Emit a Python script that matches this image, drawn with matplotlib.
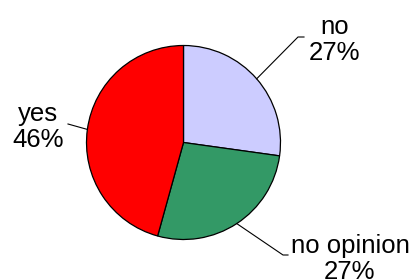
import numpy as np
import matplotlib
matplotlib.use("Agg")
import matplotlib.pyplot as plt

# slices, clockwise from the top
labels = ["no", "no opinion", "yes"]
shares = [27.2, 27.1, 45.7]
pct_text = ["27%", "27%", "46%"]
colors = ["#CCCCFF", "#339966", "#FF0000"]

plt.rcParams['font.family'] = ['Liberation Sans', 'DejaVu Sans']

W, H = 414, 279
fig = plt.figure(figsize=(W / 100, H / 100), dpi=100)
ax = fig.add_axes([0, 0, 1, 1])

cx, cy, r = 183.5, 136.5, 97
wedges, _ = ax.pie(shares, colors=colors, startangle=90, counterclock=False,
                   center=(cx, cy), radius=r, frame=False,
                   wedgeprops=dict(edgecolor="black", linewidth=0.9))
ax.set_xlim(0, W)
ax.set_ylim(0, H)
ax.set_aspect("equal")
ax.axis("off")

# label layout: elbow point, end of short horizontal, text centre
layout = {
    "no": ((298, 242), (304, 242), (335, 239)),
    "no opinion": ((283, 24), (288, 24), (350, 20)),
    "yes": ((68, 155), (68, 155), (38, 152)),
}

for w, lab, pct in zip(wedges, labels, pct_text):
    mid = np.deg2rad((w.theta1 + w.theta2) / 2)
    edge = (cx + r * np.cos(mid), cy + r * np.sin(mid))
    elbow, end, txt = layout[lab]
    ax.plot([edge[0], elbow[0], end[0]], [edge[1], elbow[1], end[1]],
            color="black", linewidth=0.8)
    ax.text(txt[0], txt[1], f"{lab}\n{pct}", ha="center", va="center",
            fontsize=18.5, linespacing=1.15, multialignment="center")

fig.savefig("out.png", dpi=100)
